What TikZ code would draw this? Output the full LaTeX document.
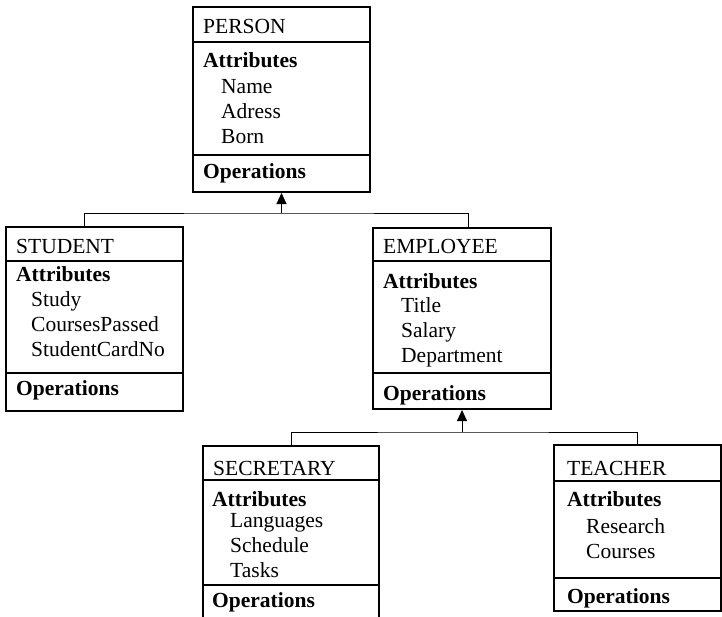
\documentclass[tikz,border=0pt]{standalone}
\usepackage{fontspec}
\setmainfont{Liberation Serif}
\usepackage{tikz}
\usetikzlibrary{arrows.meta}

\tikzset{
    classbox/.style={draw, line width=1.2pt, inner sep=0pt, outer sep=0pt, anchor=north west},
    divider/.style={line width=1.2pt},
    classname/.style={anchor=base west, inner sep=0pt, font=\fontsize{21.5}{25}\selectfont},
    section/.style={anchor=base west, inner sep=0pt, font=\fontsize{21.5}{25}\selectfont\bfseries},
    member/.style={anchor=base west, inner sep=0pt, font=\fontsize{21.5}{25}\selectfont},
    inherit/.style={line width=1pt},
    isa/.style={line width=1pt, -{Triangle[width=10pt,length=11pt]}, shorten >=1pt}
}

\begin{document}
\begin{tikzpicture}[x=1pt, y=-1pt]
    \useasboundingbox (0,0) rectangle (722,616);

    % PERSON
    \node[classbox, minimum width=177pt, minimum height=185pt] (person) at (193,7) {};
    \draw[divider] (person.west |- 0,42) -- (person.east |- 0,42);
    \draw[divider] (person.west |- 0,155) -- (person.east |- 0,155);
    \node[classname] (person-name) at (203,33) {PERSON};
    \node[section] (person-attr) at (203,67) {Attributes};
    \foreach \t [count=\i] in {Name,Adress,Born} {
        \node[member] (person-a\i) at (221,{68+25*\i}) {\t};
    }
    \node[section] (person-op) at (203,178) {Operations};

    % STUDENT
    \node[classbox, minimum width=177pt, minimum height=184pt] (student) at (6,227) {};
    \draw[divider] (student.west |- 0,261) -- (student.east |- 0,261);
    \draw[divider] (student.west |- 0,373) -- (student.east |- 0,373);
    \node[classname] (student-name) at (16,253) {STUDENT};
    \node[section] (student-attr) at (16,281) {Attributes};
    \foreach \t [count=\i] in {Study,CoursesPassed,StudentCardNo} {
        \node[member] (student-a\i) at (31,{281+25*\i}) {\t};
    }
    \node[section] (student-op) at (16,395) {Operations};

    % EMPLOYEE
    \node[classbox, minimum width=178pt, minimum height=181pt] (employee) at (373,228) {};
    \draw[divider] (employee.west |- 0,261) -- (employee.east |- 0,261);
    \draw[divider] (employee.west |- 0,373) -- (employee.east |- 0,373);
    \node[classname] (employee-name) at (383,253) {EMPLOYEE};
    \node[section] (employee-attr) at (383,288) {Attributes};
    \foreach \t [count=\i] in {Title,Salary,Department} {
        \node[member] (employee-a\i) at (401,{287+25*\i}) {\t};
    }
    \node[section] (employee-op) at (383,400) {Operations};

    % SECRETARY (runs past the lower edge)
    \node[classbox, minimum width=176pt, minimum height=176pt] (secretary) at (203,446) {};
    \draw[divider] (secretary.west |- 0,480) -- (secretary.east |- 0,480);
    \draw[divider] (secretary.west |- 0,585) -- (secretary.east |- 0,585);
    \node[classname] (secretary-name) at (213,475) {SECRETARY};
    \node[section] (secretary-attr) at (212,506) {Attributes};
    \foreach \t [count=\i] in {Languages,Schedule,Tasks} {
        \node[member] (secretary-a\i) at (230,{502+25*\i}) {\t};
    }
    \node[section] (secretary-op) at (212,607) {Operations};

    % TEACHER
    \node[classbox, minimum width=167pt, minimum height=166pt] (teacher) at (554,445) {};
    \draw[divider] (teacher.west |- 0,481) -- (teacher.east |- 0,481);
    \draw[divider] (teacher.west |- 0,578) -- (teacher.east |- 0,578);
    \node[classname] (teacher-name) at (567,475) {TEACHER};
    \node[section] (teacher-attr) at (567,506) {Attributes};
    \foreach \t [count=\i] in {Research,Courses} {
        \node[member] (teacher-a\i) at (586,{508+25*\i}) {\t};
    }
    \node[section] (teacher-op) at (567,603) {Operations};

    % generalisation PERSON
    \coordinate (split1) at (person.south |- 0,213);
    \draw[inherit] ([xshift=-10pt]student.north) |- (split1) -| ([xshift=6pt]employee.north);
    \draw[isa] (split1) -- (person.south);

    % generalisation EMPLOYEE
    \coordinate (split2) at (employee.south |- 0,432);
    \draw[inherit] (secretary.north) |- (split2) -| (teacher.north);
    \draw[isa] (split2) -- (employee.south);
\end{tikzpicture}
\end{document}
